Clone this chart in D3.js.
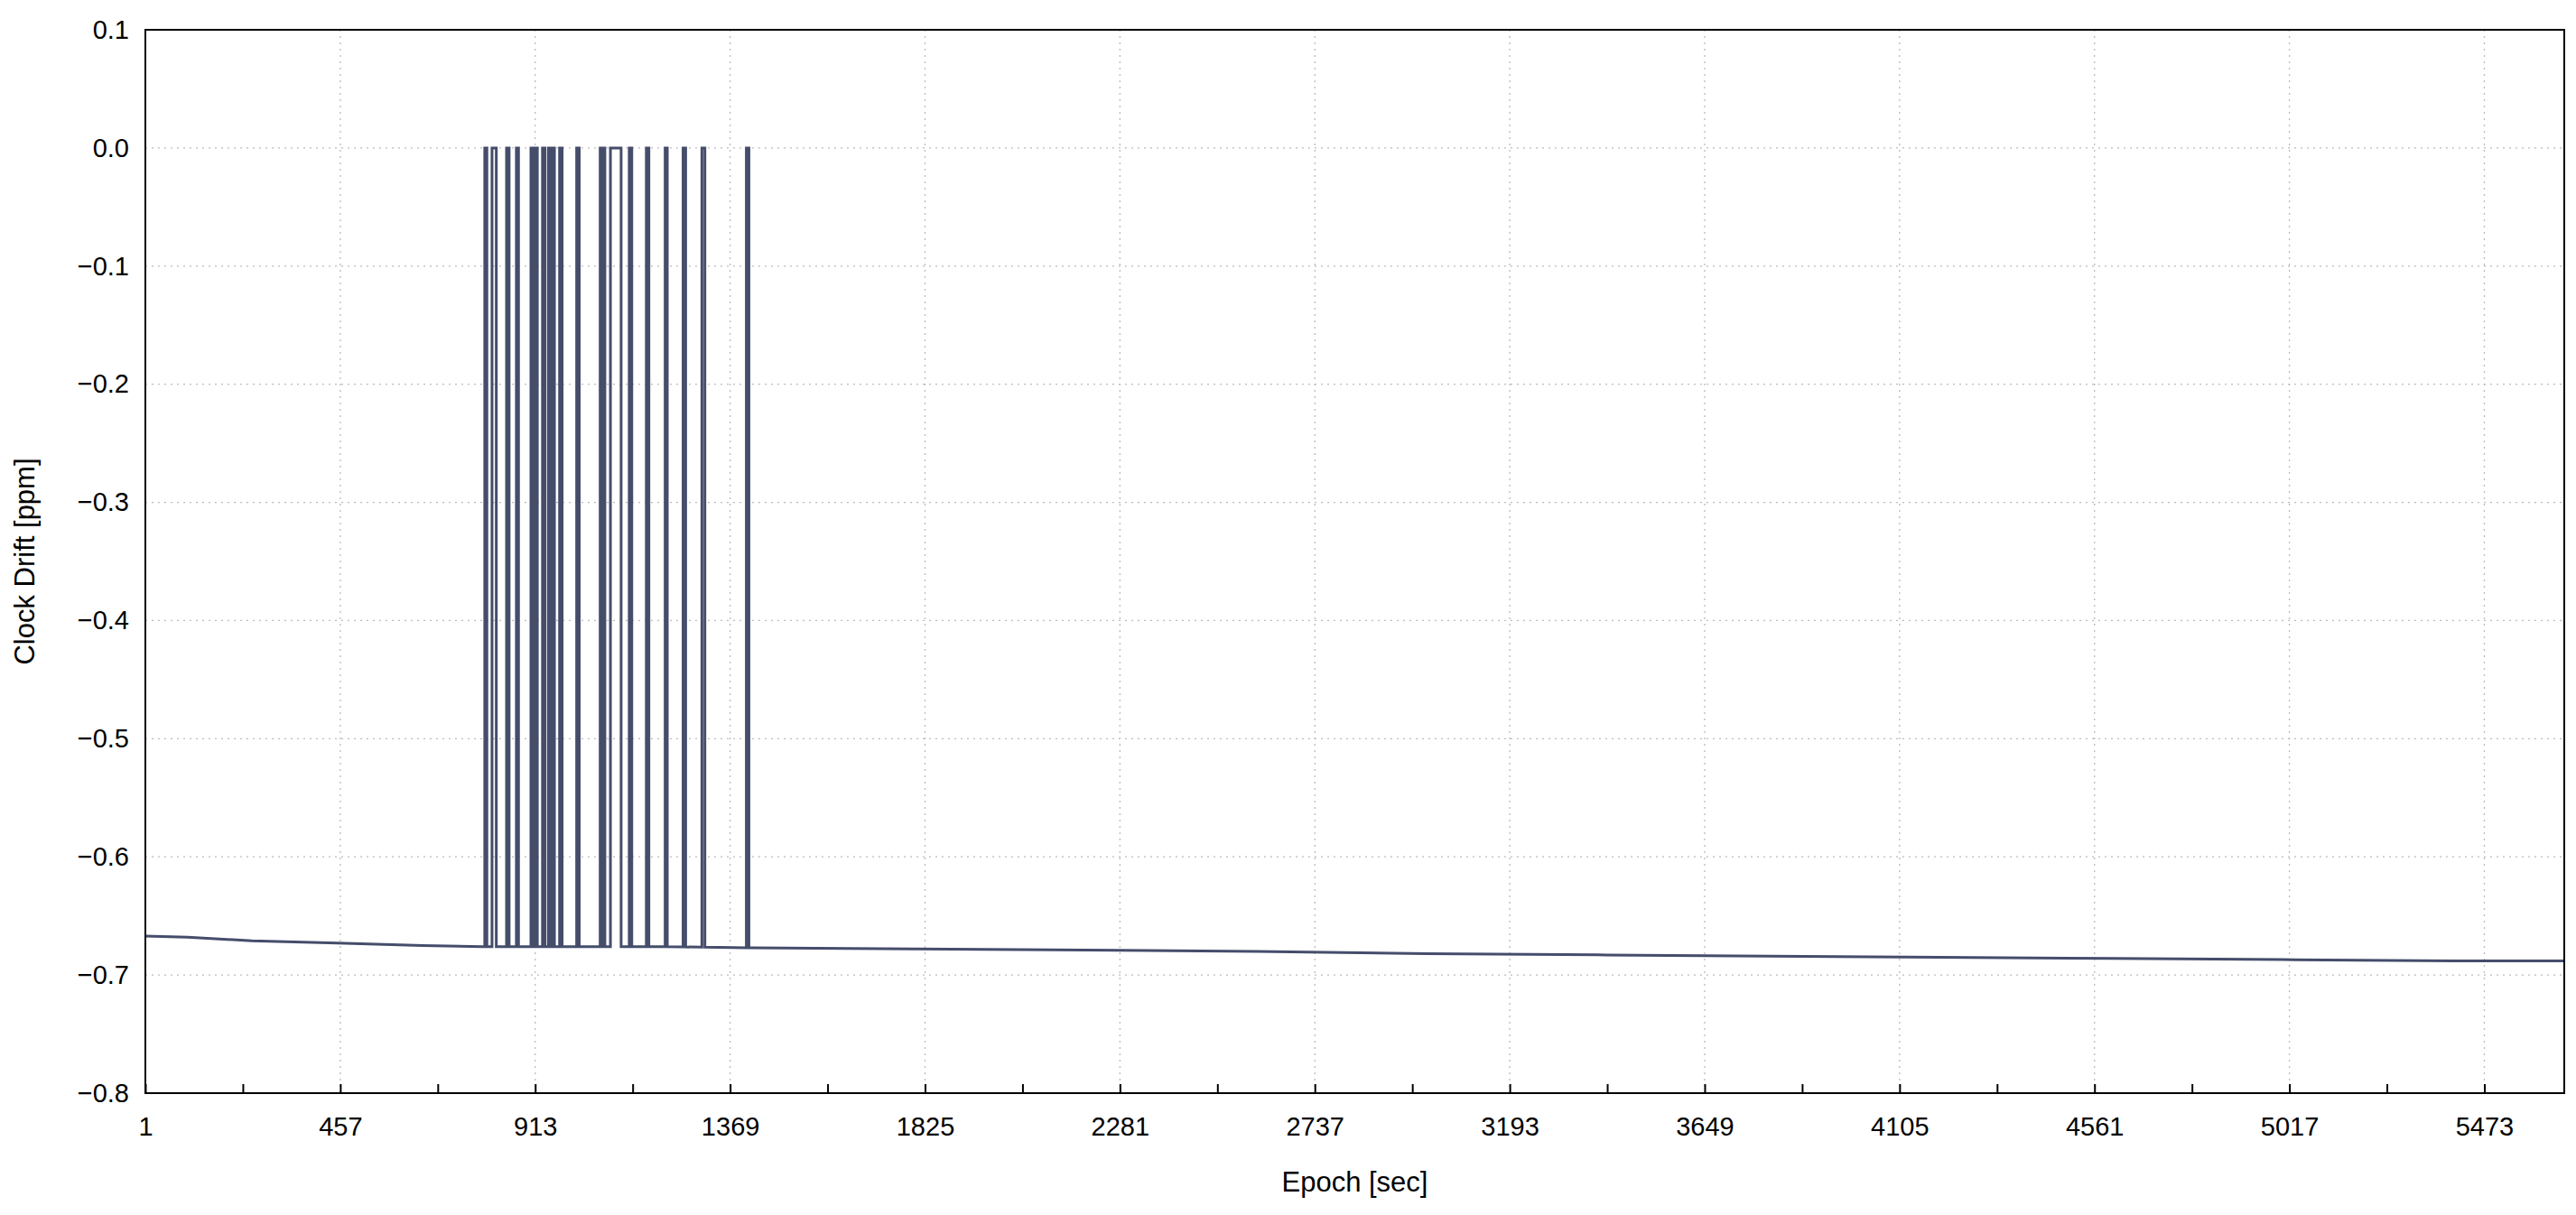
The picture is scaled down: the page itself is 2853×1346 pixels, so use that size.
<!DOCTYPE html>
<html><head><meta charset="utf-8">
<script src="https://cdn.jsdelivr.net/npm/d3@7"></script>
<style>body{margin:0;background:#fff}text{font-family:"Liberation Sans",Arial,sans-serif}</style>
</head><body><svg id="c" width="2853" height="1346"></svg>
<script>
const xTicks=[1,457,913,1369,1825,2281,2737,3193,3649,4105,4561,5017,5473];
const yTicks=[0.1,0.0,-0.1,-0.2,-0.3,-0.4,-0.5,-0.6,-0.7,-0.8];
// baseline drift anchors [epoch, ppm]
const baseline=[[1,-0.667],[100,-0.668],[250,-0.671],[450,-0.673],[650,-0.675],[790,-0.676],[1000,-0.676],[1200,-0.676],[1420,-0.677],[1800,-0.678],[2200,-0.679],[2600,-0.680],[3000,-0.682],[3400,-0.683],[3800,-0.684],[4200,-0.685],[4600,-0.686],[5000,-0.687],[5400,-0.688],[5660,-0.688]];
// pulses to 0.0 ppm [start, end]
const pulses=[[795,800],[812,822],[846,852],[869,874],[903,908],[914,918],[930,936],[944,948],[953,958],[970,976],[1010,1016],[1065,1069],[1072,1076],[1089,1114],[1133,1139],[1173,1179],[1217,1222],[1259,1265],[1303,1310],[1407,1413]];
const svg=d3.select("#c");
const L=161,R=2840,T=33,B=1211;
const x=d3.scaleLinear().domain([1,5660]).range([L,R]);
const y=d3.scaleLinear().domain([-0.8,0.1]).range([B,T]);
const g=svg.append("g");
xTicks.slice(1).forEach(t=>g.append("line").attr("x1",x(t)).attr("x2",x(t)).attr("y1",T).attr("y2",B).attr("stroke","#bbb").attr("stroke-width",1.3).attr("stroke-dasharray","2,5"));
yTicks.slice(1,-1).forEach(t=>g.append("line").attr("x1",L).attr("x2",R).attr("y1",y(t)).attr("y2",y(t)).attr("stroke","#bbb").attr("stroke-width",1.3).attr("stroke-dasharray","2,5"));
// build data
const base=e=>{for(let i=1;i<baseline.length;i++){if(e<=baseline[i][0]){const a=baseline[i-1],b=baseline[i];return a[1]+(b[1]-a[1])*(e-a[0])/(b[0]-a[0]);}}return baseline[baseline.length-1][1];};
let pts=[];let bi=0;
const events=[];baseline.forEach(p=>events.push({e:p[0],t:"b"}));pulses.forEach(p=>events.push({e:p[0],t:"s",p}));
events.sort((a,b)=>a.e-b.e);
let inPulse=null;
events.forEach(ev=>{
 if(inPulse&&ev.e<inPulse[1])return;
 if(inPulse&&ev.e>=inPulse[1]){pts.push([inPulse[1],0],[inPulse[1],base(inPulse[1])]);inPulse=null;}
 if(ev.t==="b")pts.push([ev.e,ev.p?0:ev.e===undefined?0:base(ev.e)]);
 else{pts.push([ev.p[0],base(ev.p[0])],[ev.p[0],0]);inPulse=ev.p;}
});
if(inPulse)pts.push([inPulse[1],0],[inPulse[1],base(inPulse[1])]);
g.append("path").datum(pts).attr("fill","none").attr("stroke","#454d6b").attr("stroke-width",3)
 .attr("d",d3.line().x(d=>x(d[0])).y(d=>y(d[1])));
// axes
const xa=svg.append("g").attr("transform",`translate(0,${B})`).call(d3.axisBottom(x).tickValues(xTicks).tickSize(0).tickPadding(26).tickFormat(d3.format("d")));
const xm=svg.append("g").attr("transform",`translate(0,${B})`).call(d3.axisBottom(x).tickValues(d3.range(1,5660,228)).tickSize(-10).tickFormat(""));
xm.select(".domain").remove();
const ya=svg.append("g").attr("transform",`translate(${L},0)`).call(d3.axisLeft(y).tickValues(yTicks).tickSize(0).tickPadding(18).tickFormat(d3.format(".1f")));
[xa,ya,xm].forEach(a=>{a.selectAll("text").attr("font-size",29).attr("fill","#000");a.selectAll("line").attr("stroke","#000").attr("stroke-width",2);});
xa.select(".domain").remove();ya.select(".domain").remove();
svg.append("rect").attr("x",L).attr("y",T).attr("width",R-L).attr("height",B-T).attr("fill","none").attr("stroke","#000").attr("stroke-width",2);
svg.append("text").attr("x",(L+R)/2).attr("y",1320).attr("text-anchor","middle").attr("font-size",31).text("Epoch [sec]");
svg.append("text").attr("transform",`translate(38,${(T+B)/2}) rotate(-90)`).attr("text-anchor","middle").attr("font-size",31).text("Clock Drift [ppm]");
</script></body></html>
